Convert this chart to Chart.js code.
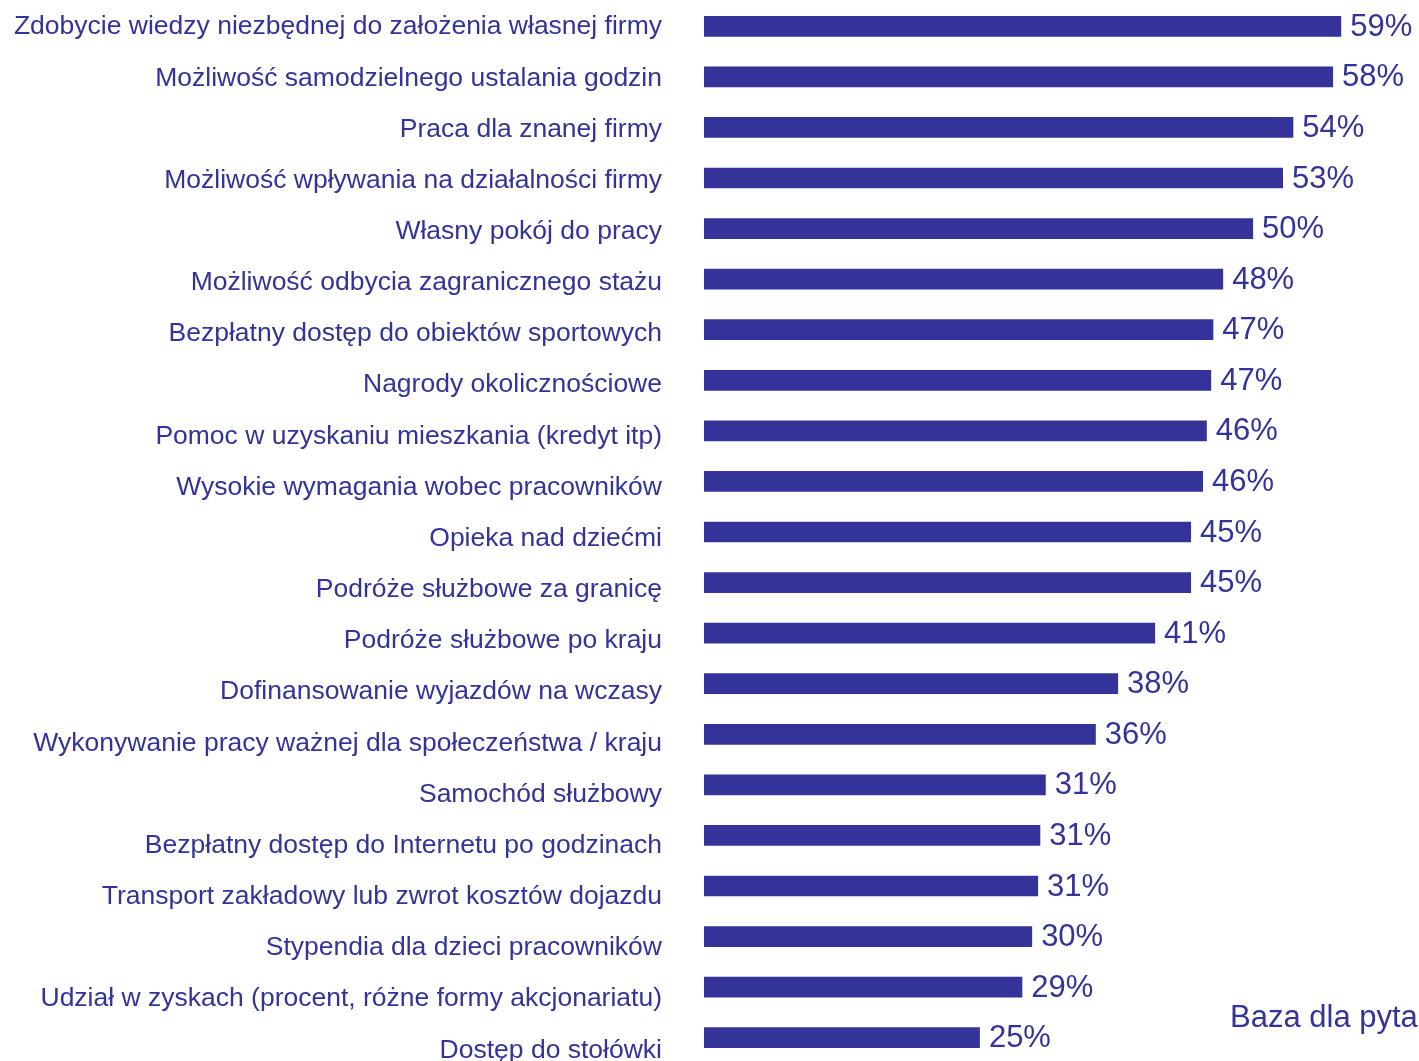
<!DOCTYPE html>
<html lang="pl">
<head>
<meta charset="utf-8">
<title>Benefity</title>
<script src="https://cdn.jsdelivr.net/npm/chart.js@4/dist/chart.umd.min.js"></script>
<style>
  html, body { margin: 0; padding: 0; background: #fff; overflow: hidden; }
  #wrap { position: relative; width: 1419px; height: 1063px; }
  #note {
    position: absolute; left: 1230px; top: 999px;
    font: 31px "Liberation Sans", Arial, sans-serif; color: #333399;
    white-space: nowrap;
  }
</style>
</head>
<body>
<div id="wrap">
  <canvas id="benefitChart"></canvas>
  <div id="note">Baza dla pytania</div>
</div>
<script>
// --------------------
// Data
// --------------------
const categories = [
  "Zdobycie wiedzy niezbędnej do założenia własnej firmy",
  "Możliwość samodzielnego ustalania godzin",
  "Praca dla znanej firmy",
  "Możliwość wpływania na działalności firmy",
  "Własny pokój do pracy",
  "Możliwość odbycia zagranicznego stażu",
  "Bezpłatny dostęp do obiektów sportowych",
  "Nagrody okolicznościowe",
  "Pomoc w uzyskaniu mieszkania (kredyt itp)",
  "Wysokie wymagania wobec pracowników",
  "Opieka nad dziećmi",
  "Podróże służbowe za granicę",
  "Podróże służbowe po kraju",
  "Dofinansowanie wyjazdów na wczasy",
  "Wykonywanie pracy ważnej dla społeczeństwa / kraju",
  "Samochód służbowy",
  "Bezpłatny dostęp do Internetu po godzinach",
  "Transport zakładowy lub zwrot kosztów dojazdu",
  "Stypendia dla dzieci pracowników",
  "Udział w zyskach (procent, różne formy akcjonariatu)",
  "Dostęp do stołówki"
];

const percentValues = [
  58.55, 57.8, 54.15, 53.2, 50.45, 47.7, 46.8, 46.6, 46.2, 45.85, 44.75,
  44.75, 41.45, 38.05, 36.0, 31.4, 30.9, 30.7, 30.15, 29.25, 25.35
];

const BLUE = "#333399";
const FONT = "'Liberation Sans', Arial, sans-serif";

// --------------------
// Value labels next to bars
// --------------------
const valueLabels = {
  id: "valueLabels",
  afterDatasetsDraw(chart) {
    const ctx = chart.ctx;
    const meta = chart.getDatasetMeta(0);
    ctx.save();
    ctx.fillStyle = BLUE;
    ctx.font = "31px " + FONT;
    ctx.textAlign = "left";
    ctx.textBaseline = "middle";
    meta.data.forEach((bar, i) => {
      ctx.fillText(Math.round(percentValues[i]) + "%", bar.x + 9, bar.y + 1);
    });
    ctx.restore();
  }
};

// --------------------
// Chart
// --------------------
new Chart(document.getElementById("benefitChart"), {
  type: "bar",
  data: {
    labels: categories,
    datasets: [{
      data: percentValues,
      backgroundColor: BLUE,
      borderWidth: 0,
      barPercentage: 0.41,
      categoryPercentage: 1
    }]
  },
  options: {
    indexAxis: "y",
    responsive: true,
    maintainAspectRatio: false,
    animation: false,
    layout: { padding: { top: 1, right: 62, bottom: 0, left: 0 } },
    plugins: {
      legend: { display: false },
      tooltip: { enabled: false }
    },
    scales: {
      x: {
        display: false,
        min: 0,
        max: 60
      },
      y: {
        display: false,
        offset: true
      },
      // label axis: text rows are spaced a little wider than the bars
      yLabels: {
        type: "linear",
        position: "left",
        reverse: true,
        offset: false,
        min: -0.51,
        max: 20.25,
        grid: { display: false, tickLength: 42 },
        border: { display: false },
        afterBuildTicks: axis => {
          axis.ticks = categories.map((c, i) => ({ value: i }));
        },
        afterFit: axis => {
          axis.width = 704;
          axis.paddingTop = 0;
          axis.paddingBottom = 0;
        },
        ticks: {
          color: BLUE,
          padding: 0,
          font: { family: FONT, size: 26.5 },
          callback: v => categories[v]
        }
      }
    }
  },
  plugins: [valueLabels]
});
</script>
</body>
</html>
